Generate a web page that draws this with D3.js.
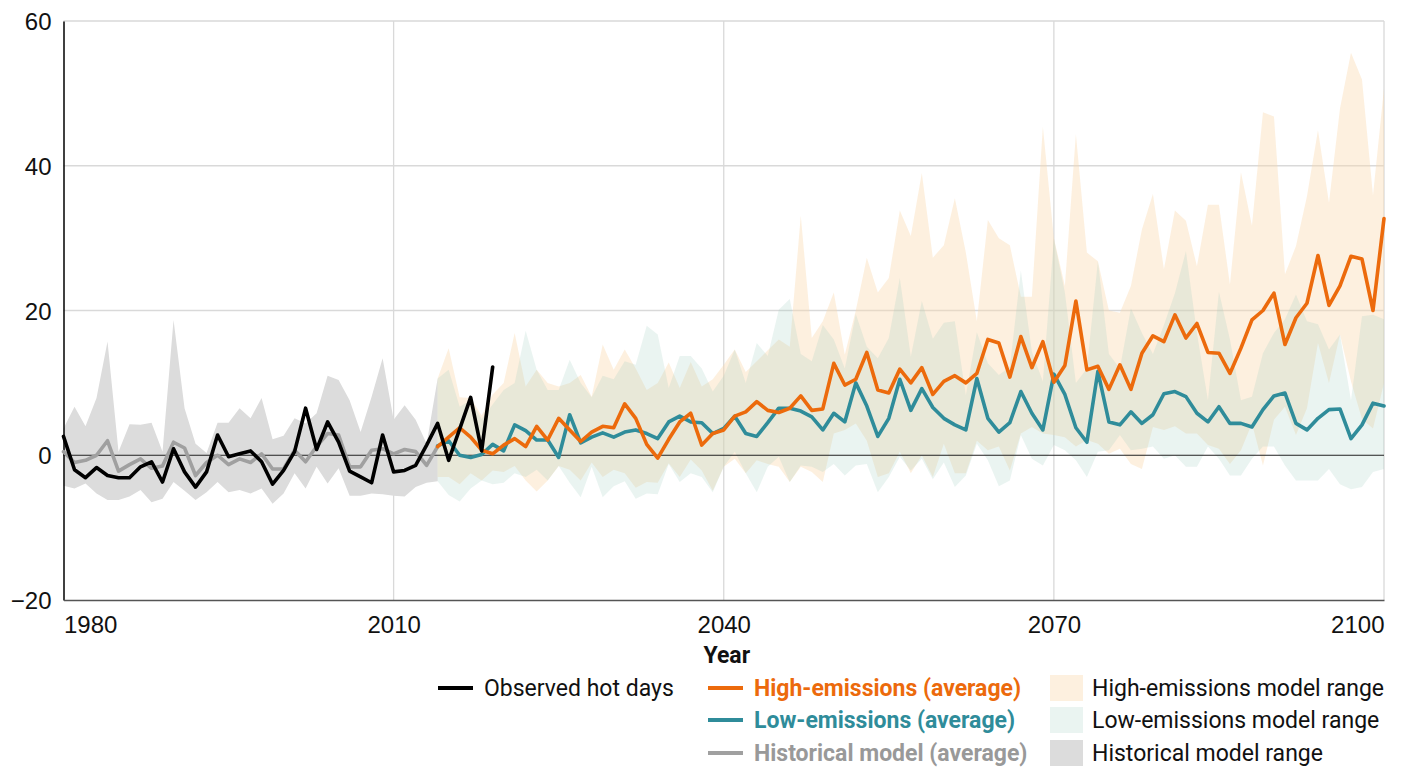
<!DOCTYPE html>
<html><head><meta charset="utf-8">
<script src="https://cdn.jsdelivr.net/npm/d3@7"></script>
<style>
html,body{margin:0;padding:0;background:#fff;}
svg{display:block;}
.tick-label{font-family:"Liberation Sans",Arial,sans-serif;font-size:24px;fill:#111;}
.leg{font-family:Roboto,"Noto Sans",sans-serif;font-size:23px;}
</style></head>
<body>
<svg id="chart" width="1402" height="767"></svg>
<script>
// ---- data ----
const obsStart = 1980;
const observed = [2.6,-2.0,-3.1,-1.7,-2.8,-3.1,-3.1,-1.6,-0.9,-3.7,0.9,-2.3,-4.4,-2.3,2.8,-0.2,0.2,0.6,-0.9,-4.0,
  -2.1,0.5,6.5,0.8,4.6,1.8,-2.2,-3.0,-3.8,2.8,-2.3,-2.1,-1.4,1.4,4.4,-0.7,3.6,8.0,0.6,12.2];

const histStart = 1980;
const histAvg = [0.5,-1.0,-0.7,0.0,2.0,-2.2,-1.3,-0.5,-1.8,-1.5,1.8,1.0,-2.8,-1.0,0.0,-1.3,-0.5,-1.0,0.2,-1.9,
  -1.9,0.7,-0.9,1.2,3.0,2.8,-1.6,-1.6,0.7,0.9,0.2,0.8,0.5,-1.4,1.2];
const histUpper = [3.7,6.7,4.0,7.9,15.7,0.5,4.3,4.2,4.5,0.5,18.7,6.5,1.6,0.3,4.5,4.5,6.5,5.1,7.9,2.2,
  2.7,5.1,4.4,5.8,11.0,10.4,7.6,3.2,8.1,13.4,4.9,6.9,4.9,1.6,10.6];
const histLower = [-4.2,-4.6,-3.9,-5.3,-6.2,-6.2,-5.7,-4.8,-6.5,-6.0,-3.7,-4.9,-6.2,-5.1,-3.7,-5.1,-4.8,-5.3,-4.6,-6.7,
  -5.3,-2.5,-4.6,-1.6,-3.9,-1.8,-5.6,-5.6,-5.3,-5.4,-5.6,-5.7,-4.4,-3.8,-3.6];

const projStart = 2014;
const highAvg = [1.2,2.5,3.8,2.5,0.7,0.2,1.4,2.3,1.2,4.0,
  2.1,5.1,3.5,1.9,3.2,4.0,3.8,7.1,5.1,1.5,
  -0.4,2.2,4.6,5.8,1.4,3.0,3.5,5.4,6.0,7.4,
  6.2,5.9,6.5,8.2,6.2,6.4,12.7,9.7,10.5,14.2,
  9.0,8.6,11.9,10.0,12.1,8.4,10.2,11.0,10.0,11.3,
  16.0,15.5,10.8,16.4,12.1,15.7,10.1,12.4,21.3,11.8,
  12.3,9.1,12.5,9.1,14.1,16.5,15.7,19.4,16.2,18.2,
  14.2,14.1,11.3,14.8,18.7,20.0,22.4,15.3,19.0,21.0,
  27.6,20.7,23.4,27.5,27.1,20.0,32.7];
const lowAvg = [1.3,2.0,0.0,-0.3,0.1,1.5,0.6,4.2,3.4,2.1,
  2.1,-0.3,5.6,1.7,2.5,3.1,2.5,3.2,3.5,3.0,
  2.3,4.6,5.4,4.6,4.5,3.0,3.7,5.4,3.0,2.6,
  4.5,6.5,6.5,6.1,5.3,3.5,5.8,4.6,10.0,6.8,
  2.6,5.1,10.5,6.2,9.2,6.6,5.1,4.2,3.5,10.6,
  5.1,3.2,4.5,8.8,5.8,3.5,11.2,8.4,3.8,1.8,
  11.6,4.6,4.2,6.0,4.4,5.6,8.5,8.8,8.1,5.8,
  4.6,6.7,4.4,4.4,3.9,6.3,8.2,8.6,4.4,3.5,
  5.1,6.3,6.4,2.3,4.2,7.2,6.8];
const highUpper = [10.6,14.8,8.0,7.9,5.5,8.4,10.0,16.9,9.5,11.8,
  10.0,9.5,10.0,11.1,8.1,15.3,11.8,14.6,12.0,9.0,
  10.0,12.8,9.3,12.9,9.5,10.5,12.5,14.6,11.5,13.0,
  14.5,16.0,15.0,33.1,16.2,18.5,22.5,13.9,20.0,27.3,
  22.5,24.5,33.8,30.3,39.0,27.3,29.0,35.5,28.0,18.5,
  32.5,30.0,29.0,21.9,21.9,45.4,30.0,23.4,44.4,28.0,
  26.8,20.0,19.7,23.4,31.2,36.1,25.7,33.8,32.4,26.1,
  34.6,34.6,23.6,39.1,31.7,47.4,46.8,25.0,28.9,35.8,
  44.9,34.9,47.9,55.6,51.9,35.9,50.7];
const highLower = [-3.0,-3.0,-4.0,-2.5,-3.5,-2.1,-2.3,-1.5,-3.5,-5.0,
  -3.5,-1.5,-2.0,-3.5,-1.0,-3.0,-2.0,-2.5,-4.5,-3.7,
  -3.8,-1.1,-3.0,-0.6,-2.1,-4.9,-1.6,-0.5,-2.5,-0.7,
  -1.2,-1.6,-3.7,-1.6,-2.3,-3.7,3.0,3.5,4.4,2.0,
  -3.0,-2.5,0.5,-2.5,0.0,-3.0,1.6,-2.5,-2.5,2.0,
  0.7,1.2,-2.1,3.0,3.9,3.0,2.8,2.5,1.2,2.1,
  1.6,0.2,0.9,-1.2,-1.9,3.9,3.5,4.0,3.0,3.0,
  1.4,0.9,-1.2,0.7,4.4,-1.4,4.9,6.7,2.8,6.5,
  15.5,10.0,16.7,10.2,5.0,3.7,10.0];
const lowUpper = [10.6,11.8,6.7,7.6,5.0,7.0,9.0,10.0,17.2,11.8,
  9.0,9.0,13.2,10.0,8.0,11.0,10.5,13.0,12.5,17.9,
  16.7,9.3,13.7,13.7,12.0,8.8,11.0,14.6,10.0,15.5,
  13.7,20.1,21.6,14.0,13.0,18.0,16.0,12.0,19.5,15.0,
  13.4,16.2,24.5,13.6,21.3,16.1,18.3,18.5,8.3,17.0,
  12.7,11.1,12.2,25.5,14.3,10.2,29.9,22.5,10.0,12.0,
  26.8,14.0,12.0,20.3,16.9,14.0,18.0,22.4,28.2,16.9,
  7.6,22.6,16.0,7.6,8.1,14.1,16.9,18.8,22.2,18.5,
  18.1,14.6,16.7,7.6,19.2,19.4,18.8];
const lowLower = [-3.6,-5.5,-6.4,-4.6,-3.5,-4.0,-3.8,-2.5,-3.0,-2.0,
  -3.5,-1.5,-3.8,-5.8,-1.6,-5.8,-4.3,-3.6,-6.0,-5.3,
  -5.4,-1.2,-3.7,-2.5,-3.0,-5.1,-1.6,0.5,-2.5,-5.1,
  -1.6,-0.2,-3.7,-1.4,-1.6,-2.3,-1.2,-2.8,-1.4,-1.2,
  -5.1,-3.0,-0.2,-2.1,-0.5,-3.3,-1.0,-4.4,-2.8,1.6,
  -0.7,-4.3,-3.5,2.8,-0.5,-1.4,1.4,0.7,-0.7,-3.0,
  0.5,0.7,2.8,0.7,0.9,1.2,-0.5,0.0,-1.6,-1.6,
  1.2,-0.5,-2.8,-2.8,-0.5,1.2,1.2,-1.4,-3.5,-3.5,
  -3.5,-1.9,-4.0,-4.7,-4.4,-2.3,-1.9];

const yTicks = [-20, 0, 20, 40, 60];
const xTicks = [1980, 2010, 2040, 2070, 2100];
const xTitle = "Year";

// ---- drawing ----
const svg = d3.select("#chart");
const x = d3.scaleLinear().domain([1980, 2100]).range([63.5, 1384]);
const y = d3.scaleLinear().domain([-20, 60]).range([600, 21]);

const C = {orange:"#EC6A0C", teal:"#2F8C9A", grey:"#A0A0A0", black:"#000",
  orangeBand:"#FBD9AE", tealBand:"#9FCFBE", greyBand:"#DCDCDC", grid:"#D9D9D9"};

const seq = (start, arr) => arr.map((v,i)=>({year:start+i, v}));
const band = (start, lo, hi) => lo.map((v,i)=>({year:start+i, lo:v, hi:hi[i]}));

// gridlines
svg.append("g").selectAll("line").data([20,40,60]).join("line")
  .attr("x1", x(1980)).attr("x2", x(2100)).attr("y1", d=>y(d)).attr("y2", d=>y(d))
  .attr("stroke", C.grid).attr("stroke-width", 1.3);
svg.append("g").selectAll("line").data([2010,2040,2070,2100]).join("line")
  .attr("x1", d=>x(d)).attr("x2", d=>x(d)).attr("y1", y(60)).attr("y2", y(-20))
  .attr("stroke", C.grid).attr("stroke-width", 1.3);

const area = d3.area().x(d=>x(d.year)).y0(d=>y(d.lo)).y1(d=>y(d.hi));
svg.append("path").datum(band(histStart, histLower, histUpper)).attr("d", area)
  .attr("fill", C.greyBand);
svg.append("path").datum(band(projStart, highLower, highUpper)).attr("d", area)
  .attr("fill", C.orangeBand).attr("fill-opacity", 0.4);
svg.append("path").datum(band(projStart, lowLower, lowUpper)).attr("d", area)
  .attr("fill", C.tealBand).attr("fill-opacity", 0.22);

// zero line
svg.append("line").attr("x1", x(1980)).attr("x2", x(2100)).attr("y1", y(0)).attr("y2", y(0))
  .attr("stroke", "#222").attr("stroke-width", 1);

// axes
const yAxis = d3.axisLeft(y).tickValues(yTicks).tickSize(0).tickPadding(12)
  .tickFormat(d => d < 0 ? "\u2212" + Math.abs(d) : d);
const gy = svg.append("g").attr("transform", `translate(${x(1980)},0)`).call(yAxis);
gy.select(".domain").attr("stroke", "#000").attr("stroke-width", 1.5);
gy.selectAll("text").attr("class", "tick-label").attr("dy", "0.36em");

const xAxis = d3.axisBottom(x).tickValues(xTicks).tickSize(0).tickPadding(10).tickFormat(d3.format("d"));
const gx = svg.append("g").attr("transform", `translate(0,${y(-20)})`).call(xAxis);
gx.select(".domain").attr("stroke", "#555").attr("stroke-width", 1.5);
gx.selectAll("text").attr("class", "tick-label").attr("dy", "0.95em")
  .attr("text-anchor", d => d === 1980 ? "start" : (d === 2100 ? "end" : "middle"));

svg.append("text").attr("x", (x(1980)+x(2100))/2 + 3).attr("y", 663).attr("text-anchor","middle")
  .attr("font-family","Roboto, sans-serif").attr("font-weight","700").attr("font-size",23)
  .attr("fill","#111").text(xTitle);

// lines
const line = d3.line().x(d=>x(d.year)).y(d=>y(d.v));
const drawLine = (data, color) => svg.append("path").datum(data).attr("d", line)
  .attr("fill","none").attr("stroke", color).attr("stroke-width", 3.6)
  .attr("stroke-linejoin","round").attr("stroke-linecap","round");
drawLine(seq(histStart, histAvg), C.grey);
drawLine(seq(projStart, lowAvg), C.teal);
drawLine(seq(projStart, highAvg), C.orange);
drawLine(seq(obsStart, observed), C.black);

// legend
const legLines = [
  {label:"Observed hot days", color:"#000", tcolor:"#111", bold:false, x:438, y:688},
  {label:"High-emissions (average)", color:C.orange, tcolor:C.orange, bold:true, x:708, y:688},
  {label:"Low-emissions (average)", color:C.teal, tcolor:C.teal, bold:true, x:708, y:720},
  {label:"Historical model (average)", color:C.grey, tcolor:"#999", bold:true, x:708, y:753}
];
const legAreas = [
  {label:"High-emissions model range", fill:C.orangeBand, op:0.4, x:1050, y:688},
  {label:"Low-emissions model range", fill:C.tealBand, op:0.22, x:1050, y:720},
  {label:"Historical model range", fill:C.greyBand, op:1, x:1050, y:753}
];
const lg = svg.append("g");
legLines.forEach(d => {
  lg.append("line").attr("x1", d.x).attr("x2", d.x+35).attr("y1", d.y).attr("y2", d.y)
    .attr("stroke", d.color).attr("stroke-width", 3.8);
  lg.append("text").attr("class","leg").attr("x", d.x+46).attr("y", d.y).attr("dy","0.36em")
    .attr("fill", d.tcolor).attr("font-weight", d.bold ? 700 : 400).text(d.label);
});
legAreas.forEach(d => {
  lg.append("rect").attr("x", d.x).attr("y", d.y-13).attr("width", 33).attr("height", 26)
    .attr("fill", d.fill).attr("fill-opacity", d.op);
  lg.append("text").attr("class","leg").attr("x", d.x+42).attr("y", d.y).attr("dy","0.36em")
    .attr("fill", "#111").text(d.label);
});
</script>
</body></html>
